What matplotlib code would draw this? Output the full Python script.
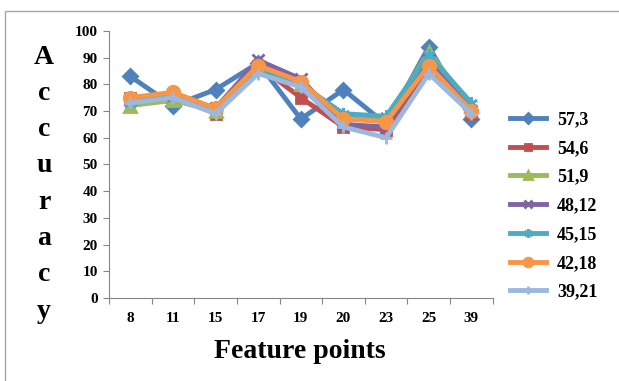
import numpy as np
import matplotlib
matplotlib.use('Agg')
import matplotlib.pyplot as plt
from matplotlib.patches import Rectangle

# feature points on the x axis
features = ['8', '11', '15', '17', '19', '20', '23', '25', '39']

# accuracy per split
acc_57_3 = [83, 72, 78, 88, 67, 78, 65, 94, 67]
acc_54_6 = [75, 76, 69, 87, 75, 64, 63, 86, 69]
acc_51_9 = [72, 74, 70, 87, 80, 68, 67, 92, 72]
acc_48_12 = [74, 76, 71, 89, 82, 65, 64, 89, 70]
acc_45_15 = [73, 76, 71, 85, 80, 69, 68, 91, 73]
acc_42_18 = [75, 77, 71, 87, 81, 67, 66, 87, 70]
acc_39_21 = [73, 75, 69, 84, 79, 64, 60, 84, 69]

series = [
    ('57,3', acc_57_3, '#4F81BD', 'D', 7),
    ('54,6', acc_54_6, '#C0504D', 's', 7),
    ('51,9', acc_51_9, '#9BBB59', '^', 8),
    ('48,12', acc_48_12, '#8064A2', 'x', 8),
    ('45,15', acc_45_15, '#4BACC6', (6, 2, 0), 9),
    ('42,18', acc_42_18, '#F79646', 'o', 9),
    ('39,21', acc_39_21, '#9DB8E0', '+', 9),
]

plt.rcParams['font.family'] = 'Liberation Serif'
plt.rcParams['font.weight'] = 'bold'

fig = plt.figure(figsize=(6.19, 3.81), dpi=100)
ax = fig.add_axes([0.176, 0.218, 0.62, 0.701])

x = np.arange(len(features))
handles = []
for name, vals, col, mk, ms in series:
    h, = ax.plot(x, vals, color=col, lw=3.5, marker=mk, markersize=ms,
                 markeredgecolor=col, markeredgewidth=2, label=name)
    handles.append(h)

ax.set_xlim(-0.5, len(features) - 0.5)
ax.set_ylim(0, 100)
ax.set_yticks(range(0, 101, 10))
ax.set_xticks(np.arange(-0.5, len(features), 1.0))
ax.set_xticklabels([])
ax.set_xticks(x, minor=True)
ax.set_xticklabels(features, minor=True)
ax.tick_params(axis='x', which='major', length=4, color='#868686', direction='out')
ax.tick_params(axis='x', which='minor', length=0, pad=10, labelsize=11)
ax.tick_params(axis='y', length=4, color='#868686', direction='out', labelsize=11, pad=4)
for lab in ax.get_xticklabels(minor=True) + ax.get_yticklabels():
    lab.set_fontweight('bold')

for s in ['top', 'right']:
    ax.spines[s].set_visible(False)
for s in ['left', 'bottom']:
    ax.spines[s].set_color('#868686')

# stacked y label letters
for i, ch in enumerate('Accuracy'):
    fig.text(44 / 619, 1 - (57 + i * 36.3) / 381, ch, fontsize=20, fontweight='bold',
             ha='center', va='center')

fig.text(300 / 619, 1 - 352 / 381, 'Feature points', fontsize=20, fontweight='bold',
         ha='center', va='center')

fig.legend(handles=handles, loc='upper left', bbox_to_anchor=(494 / 619, 1 - 95 / 381),
           frameon=False, handlelength=2.0, labelspacing=0.65, markerscale=0.7,
           handletextpad=0.6, prop={'weight': 'bold', 'size': 13})

fig.patches.append(Rectangle((5 / 619, -0.1), 1.2, 1 - 11 / 381 + 0.1,
                             transform=fig.transFigure, fill=False,
                             edgecolor='#A6A6A6', lw=1))

fig.savefig('out.png', dpi=100)
